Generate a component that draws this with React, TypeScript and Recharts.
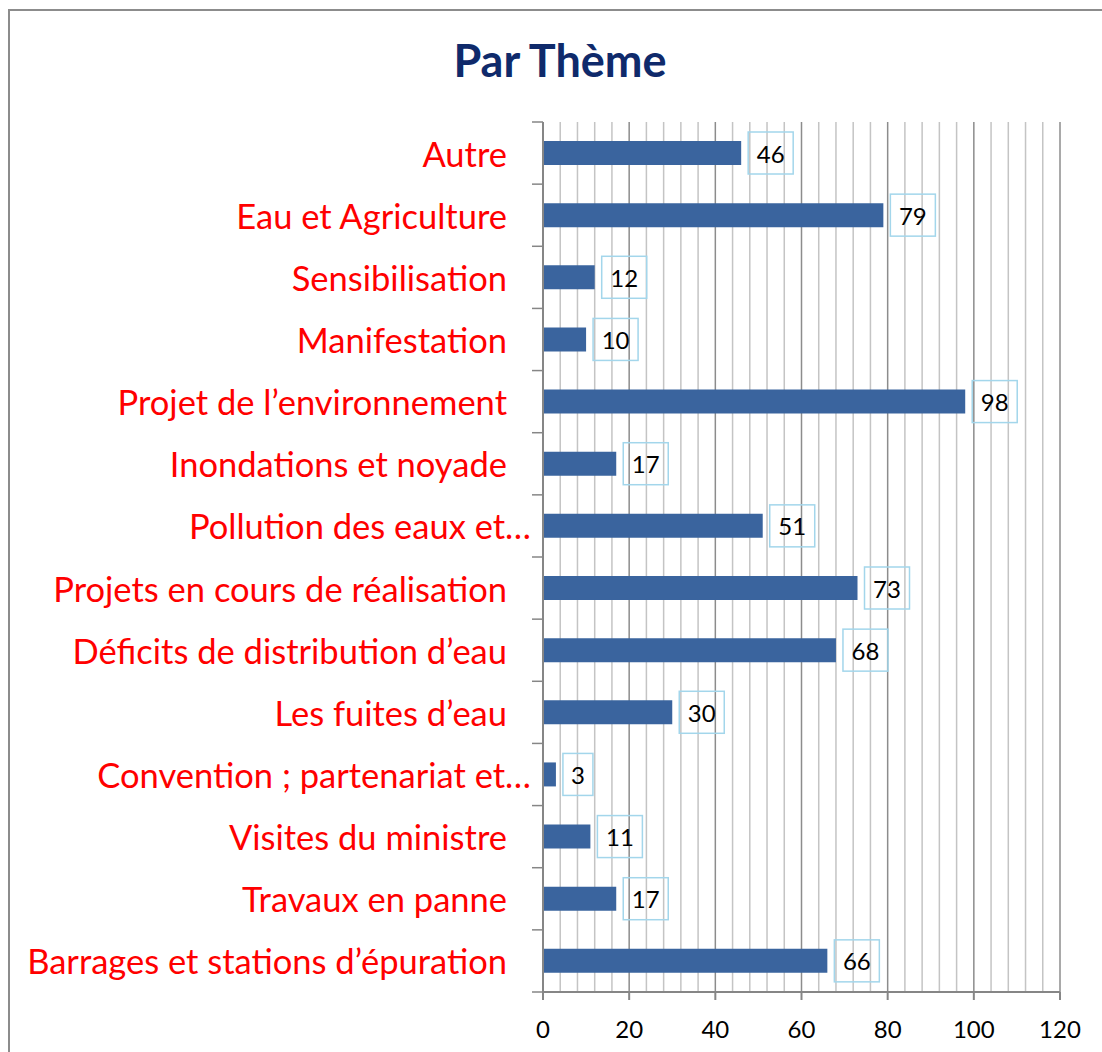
import { BarChart, Bar, XAxis, YAxis, CartesianGrid, LabelList } from "recharts";

const themes = [
  "Autre",
  "Eau et Agriculture",
  "Sensibilisation",
  "Manifestation",
  "Projet de l’environnement",
  "Inondations et noyade",
  "Pollution des eaux et…",
  "Projets en cours de réalisation",
  "Déficits de distribution d’eau",
  "Les fuites d’eau",
  "Convention ; partenariat et…",
  "Visites du ministre",
  "Travaux en panne",
  "Barrages et stations d’épuration",
];
const counts = [46, 79, 12, 10, 98, 17, 51, 73, 68, 30, 3, 11, 17, 66];

const xTicks = [0, 20, 40, 60, 80, 100, 120];
const minorTicks = [
  4, 8, 12, 16, 24, 28, 32, 36, 44, 48, 52, 56, 64, 68, 72, 76, 84, 88, 92, 96,
  104, 108, 112, 116,
];

const data = themes.map((theme, i) => ({ theme, count: counts[i] }));

const FONT = "Lato, 'Open Sans', sans-serif";
const AXIS_GRAY = "#868686";

function ThemeTick({ x, y, payload, index }: any) {
  const label = String(payload.value);
  const truncated = label.endsWith("…");
  const half = payload.offset || 0;
  return (
    <g>
      <line x1={x - 11} x2={x} y1={y - half} y2={y - half} stroke={AXIS_GRAY} strokeWidth={1.5} />
      {index === themes.length - 1 && (
        <line x1={x - 11} x2={x} y1={y + half} y2={y + half} stroke={AXIS_GRAY} strokeWidth={1.5} />
      )}
      <text
        x={x - (truncated ? 12 : 36)}
        y={y}
        textAnchor="end"
        dominantBaseline="central"
        fill="#ff0000"
        fontSize={34.5}
        fontFamily={FONT}
      >
        {label}
      </text>
    </g>
  );
}

function ValueBox({ x, y, width, height, value }: any) {
  const w = 15 + 15 * String(value).length;
  const bx = x + width + 7;
  const cy = y + height / 2;
  return (
    <g>
      <rect
        x={bx}
        y={cy - 21}
        width={w}
        height={42}
        fill="none"
        stroke="#a3d6eb"
        strokeWidth={1.5}
      />
      <text
        x={bx + w / 2}
        y={cy}
        textAnchor="middle"
        dominantBaseline="central"
        fontSize={24}
        fontFamily={FONT}
        fill="#000"
      >
        {value}
      </text>
    </g>
  );
}

const minorLines = ({ xAxis, offset }: any) =>
  minorTicks.map((v) =>
    xAxis && typeof xAxis.scale === "function"
      ? xAxis.scale(v)
      : offset.left + (v / 120) * offset.width
  );

export default function App() {
  return (
    <div
      style={{
        position: "absolute",
        left: 0,
        top: 0,
        width: 1102,
        height: 1052,
        overflow: "hidden",
        background: "#fff",
      }}
    >
      <div
        style={{
          position: "absolute",
          left: 8,
          top: 9,
          width: 1300,
          height: 1300,
          border: "2px solid #8c8c8c",
        }}
      />
      <div
        style={{
          position: "absolute",
          left: 310,
          width: 500,
          top: 32,
          textAlign: "center",
          fontFamily: FONT,
          fontWeight: 700,
          fontSize: 45,
          color: "#0f2a6b",
          lineHeight: "56px",
        }}
      >
        Par Thème
      </div>
      <div style={{ position: "absolute", left: 0, top: 0 }}>
        <BarChart
          width={1102}
          height={1052}
          data={data}
          layout="vertical"
          margin={{ top: 122, right: 42, bottom: 0, left: 0 }}
        >
          <YAxis
            type="category"
            dataKey="theme"
            width={543}
            interval={0}
            tick={<ThemeTick />}
            tickLine={false}
            tickSize={0}
            tickMargin={0}
            axisLine={{ stroke: AXIS_GRAY, strokeWidth: 2 }}
          />
          <XAxis
            type="number"
            domain={[0, 120]}
            ticks={xTicks}
            interval={0}
            height={60}
            tickSize={8}
            tickMargin={21}
            axisLine={{ stroke: AXIS_GRAY, strokeWidth: 2 }}
            tickLine={{ stroke: AXIS_GRAY, strokeWidth: 2 }}
            tick={{ fill: "#000", fontSize: 24, fontFamily: FONT }}
          />
          <CartesianGrid
            horizontal={false}
            verticalCoordinatesGenerator={minorLines}
            stroke="#c4c4c4"
            strokeWidth={1.5}
          />
          <CartesianGrid horizontal={false} stroke="#8c8c8c" strokeWidth={1.5} />
          <Bar
            dataKey="count"
            fill="#3a649e"
            barSize={24}
            isAnimationActive={false}
          >
            <LabelList dataKey="count" content={<ValueBox />} />
          </Bar>
        </BarChart>
      </div>
    </div>
  );
}
